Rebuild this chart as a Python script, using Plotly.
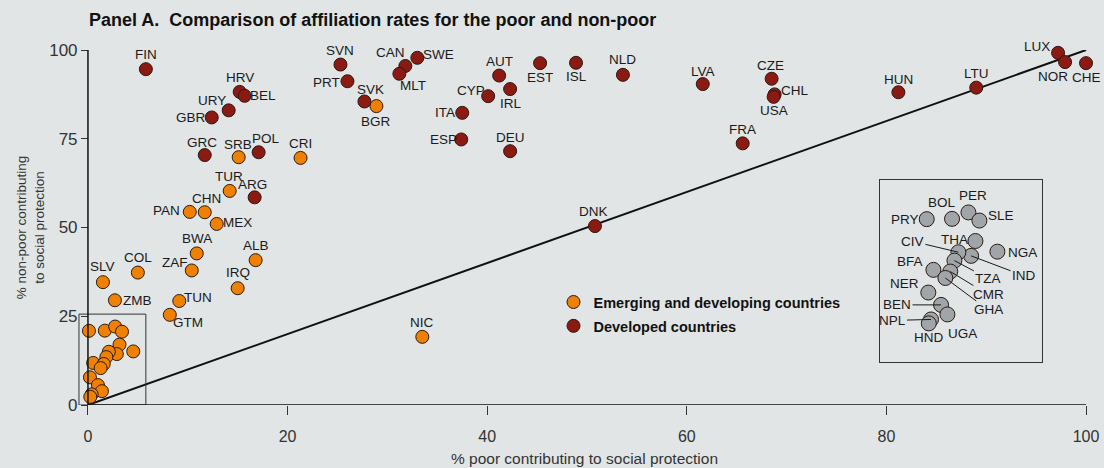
import plotly.graph_objects as go

# Emerging and developing countries (outside the zoomed cluster)
emerging_codes = ["SRB", "CRI", "TUR", "PAN", "CHN", "MEX", "BWA", "ALB", "COL", "ZAF",
                  "SLV", "IRQ", "ZMB", "TUN", "GTM", "NIC", "BGR"]
emerging_poor = [15.1, 21.3, 14.2, 10.2, 11.7, 12.9, 10.9, 16.8, 5.0, 10.4,
                 1.5, 15.0, 2.7, 9.15, 8.2, 33.5, 28.9]
emerging_nonpoor = [69.8, 69.6, 60.3, 54.4, 54.3, 51.0, 42.7, 40.8, 37.3, 37.9,
                    34.6, 32.9, 29.5, 29.3, 25.4, 19.2, 84.2]

# Emerging countries in the bottom-left cluster (shown again in the inset)
cluster_codes = ["PRY", "BOL", "PER", "SLE", "THA", "NGA", "IND", "CIV", "TZA", "BFA",
                 "CMR", "GHA", "NER", "BEN", "UGA", "NPL", "HND"]
cluster_poor = [0.1, 1.69, 2.72, 3.41, 3.16, 4.54, 2.89, 2.09, 1.84, 0.52,
                1.58, 1.27, 0.2, 1.0, 1.4, 0.37, 0.23]
cluster_nonpoor = [20.9, 20.95, 22.1, 20.65, 17.0, 15.1, 14.35, 15.0, 13.5, 11.85,
                   11.55, 10.4, 7.8, 5.6, 3.9, 3.0, 2.3]

# Developed countries
developed_codes = ["FIN", "HRV", "BEL", "URY", "GBR", "GRC", "POL", "ARG", "SVN", "PRT",
                   "SVK", "CAN", "SWE", "MLT", "AUT", "EST", "ISL", "NLD", "LVA", "IRL",
                   "CYP", "ITA", "ESP", "DEU", "CZE", "CHL", "USA", "FRA", "HUN", "LTU",
                   "LUX", "NOR", "CHE", "DNK"]
developed_poor = [5.8, 15.2, 15.7, 14.1, 12.4, 11.7, 17.1, 16.7, 25.3, 26.0,
                  27.7, 31.8, 33.0, 31.2, 41.2, 45.3, 48.9, 53.6, 61.6, 42.3,
                  40.1, 37.5, 37.4, 42.3, 68.5, 68.8, 68.7, 65.6, 81.2, 89.0,
                  97.2, 97.9, 100.0, 50.8]
developed_nonpoor = [94.6, 88.2, 87.1, 83.0, 81.0, 70.4, 71.2, 58.5, 95.9, 91.2,
                     85.5, 95.5, 97.8, 93.3, 92.8, 96.3, 96.4, 93.0, 90.4, 89.0,
                     87.0, 82.3, 74.8, 71.5, 91.9, 87.5, 86.8, 73.7, 88.1, 89.4,
                     99.2, 96.6, 96.3, 50.4]

equality_line = [0, 100]

# label centre offset from the marker, in pixels (dx right, dy down)
LABEL_OFFSET = {
    "FIN": (0, -15), "HRV": (0, -14), "BEL": (18, 0), "URY": (-17, -10), "GBR": (-21, 0),
    "GRC": (-3, -13), "SRB": (-1, -13), "POL": (7, -14), "CRI": (0, -14), "TUR": (-1, -14),
    "ARG": (-2, -13), "PAN": (-23, -1), "CHN": (2, -14), "MEX": (21, -1), "SVN": (0, -14),
    "PRT": (-21, 1), "SVK": (6, -12), "BGR": (0, 15), "CAN": (-15, -13), "SWE": (21, -3),
    "MLT": (14, 12), "AUT": (0, -14), "EST": (0, 14), "ISL": (0, 14), "NLD": (0, -15),
    "LVA": (0, -13), "IRL": (1, 14), "CYP": (-17, -6), "ITA": (-17, 0), "ESP": (-18, 0),
    "DEU": (0, -14), "CZE": (-1, -13), "CHL": (20, -4), "USA": (0, 14), "FRA": (0, -14),
    "HUN": (0, -13), "LTU": (0, -14), "LUX": (-21, -6), "NOR": (-12, 14), "CHE": (0, 14),
    "DNK": (-1, -15), "NIC": (0, -14), "BWA": (0, -15), "ALB": (0, -15), "COL": (0, -15),
    "ZAF": (-17, -8), "SLV": (0, -16), "IRQ": (0, -16), "ZMB": (23, 0), "TUN": (19, -3),
    "GTM": (18, 8),
}
INSET_OFFSET = {
    "PRY": (-22, 0), "BOL": (-10, -16), "PER": (5, -17), "SLE": (22, -5), "THA": (-21, -2),
    "NGA": (25, 1), "BFA": (-23, -8), "NER": (-24, -9), "HND": (0, 14), "UGA": (15, 19),
}
INSET_LEADER = {
    "CIV": (-46, -11), "IND": (53, 20), "TZA": (34, 18), "CMR": (38, 23),
    "GHA": (43, 32), "BEN": (-44, 0), "NPL": (-39, 1),
}

BG = "#e1e5e6"
ORANGE = "#f08000"
DARKRED = "#8a1a12"
GREY = "#9fa5a8"
EDGE = "#2b1a14"
SANS = "Liberation Sans, Arial, sans-serif"

fig = go.Figure()

fig.add_trace(go.Scatter(
    x=equality_line, y=equality_line, mode="lines",
    line=dict(color="#111111", width=2), showlegend=False, hoverinfo="skip"))

fig.add_trace(go.Scatter(
    x=emerging_poor + cluster_poor, y=emerging_nonpoor + cluster_nonpoor,
    text=emerging_codes + cluster_codes, mode="markers",
    name="Emerging and developing countries", legendgroup="emerging",
    marker=dict(size=13, color=ORANGE, line=dict(color=EDGE, width=1)),
    cliponaxis=False))

fig.add_trace(go.Scatter(
    x=developed_poor, y=developed_nonpoor, text=developed_codes, mode="markers",
    name="Developed countries", legendgroup="developed",
    marker=dict(size=13, color=DARKRED, line=dict(color=EDGE, width=1)),
    cliponaxis=False))

# zoomed inset of the cluster
fig.add_trace(go.Scatter(
    x=cluster_poor, y=cluster_nonpoor, text=cluster_codes, mode="markers",
    xaxis="x2", yaxis="y2", showlegend=False,
    marker=dict(size=15, color=GREY, line=dict(color=EDGE, width=1)),
    cliponaxis=False))

lab_font = dict(family=SANS, size=13.5, color="#1a1a1a")

for codes, xs, ys in [(emerging_codes, emerging_poor, emerging_nonpoor),
                      (developed_codes, developed_poor, developed_nonpoor)]:
    for c, xv, yv in zip(codes, xs, ys):
        dx, dy = LABEL_OFFSET[c]
        fig.add_annotation(x=xv, y=yv, text=c, showarrow=False, font=lab_font,
                           xanchor="center", yanchor="middle", xshift=dx, yshift=-dy)

for c, xv, yv in zip(cluster_codes, cluster_poor, cluster_nonpoor):
    if c in INSET_OFFSET:
        dx, dy = INSET_OFFSET[c]
        fig.add_annotation(x=xv, y=yv, xref="x2", yref="y2", text=c, showarrow=False,
                           font=lab_font, xanchor="center", yanchor="middle",
                           xshift=dx, yshift=-dy)
    else:
        dx, dy = INSET_LEADER[c]
        fig.add_annotation(x=xv, y=yv, xref="x2", yref="y2", text=c, showarrow=True,
                           arrowhead=0, arrowwidth=1, arrowcolor="#1a1a1a",
                           ax=dx, ay=dy, standoff=0, font=lab_font)

# small box marking the zoomed area
fig.add_shape(type="rect", x0=-0.9, x1=5.8, y0=0, y1=25.6, xref="x", yref="y",
              line=dict(color="#333333", width=1))
# axis lines
fig.add_shape(type="line", x0=0, x1=100, y0=0, y1=0, xref="x", yref="y",
              line=dict(color="#111111", width=1.5))
fig.add_shape(type="line", x0=0, x1=0, y0=0, y1=100, xref="x", yref="y",
              line=dict(color="#111111", width=1.5))

fig.update_layout(
    width=1104, height=468,
    paper_bgcolor=BG, plot_bgcolor=BG,
    margin=dict(l=68, r=3, t=50, b=63, autoexpand=False),
    font=dict(family=SANS, color="#333333"),
    title=dict(text="<b>Panel A.  Comparison of affiliation rates for the poor and non-poor</b>",
               x=89 / 1104, xref="container", xanchor="left",
               y=1 - 20 / 468, yref="container", yanchor="middle",
               font=dict(family=SANS, size=18, color="#111111")),
    xaxis=dict(range=[-2, 101.5], showgrid=False, zeroline=False, showline=False,
               tickvals=[0, 20, 40, 60, 80, 100], ticks="outside", ticklen=9,
               tickcolor="#333333", tickfont=dict(size=16, color="#333333"),
               ticklabelstandoff=8,
               title=dict(text="% poor contributing to social protection",
                          font=dict(size=15.5, color="#333333"), standoff=8)),
    yaxis=dict(range=[0, 100], showgrid=False, zeroline=False, showline=False,
               anchor="free", position=2 / 103.5,
               tickvals=[0, 25, 50, 75, 100], ticks="outside", ticklen=7,
               tickcolor="#333333", tickfont=dict(size=17, color="#333333"),
               ticklabelstandoff=0,
               title=dict(text="% non-poor contributing<br>to social protection",
                          font=dict(size=13.5, color="#333333"), standoff=0)),
    xaxis2=dict(domain=[0.786, 0.943], range=[-2.84, 7.35], anchor="y2",
                showgrid=False, zeroline=False, showticklabels=False, ticks="",
                showline=True, mirror=True, linecolor="#333333", linewidth=1),
    yaxis2=dict(domain=[0.121, 0.634], range=[-4.6, 27.9], anchor="x2",
                showgrid=False, zeroline=False, showticklabels=False, ticks="",
                showline=True, mirror=True, linecolor="#333333", linewidth=1),
    legend=dict(x=0.470, y=0.335, xanchor="left", yanchor="top",
                bgcolor="rgba(0,0,0,0)", tracegroupgap=2,
                font=dict(family=SANS, size=14.5, color="#111111", weight="bold")),
)

# the default page has an 8px body margin; remove it so the figure fills the window
fig.write_html("out.html", config={"displayModeBar": False},
               post_script="document.body.style.margin='0';")
